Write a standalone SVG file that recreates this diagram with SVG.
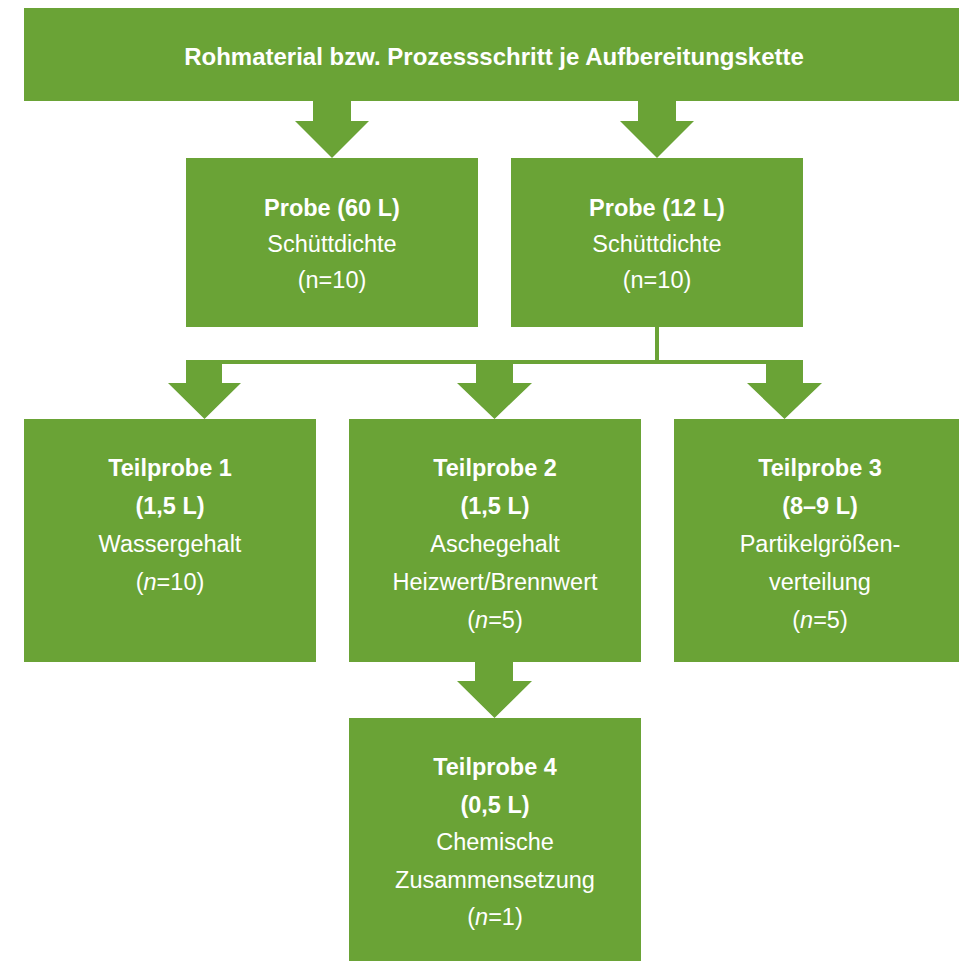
<svg xmlns="http://www.w3.org/2000/svg" width="959" height="967" viewBox="0 0 959 967">
<style>
.box{fill:#6aa336}
.arr{fill:#6aa336}
text{font-family:"Liberation Sans",Arial,sans-serif;font-size:23.5px;fill:#ffffff;text-anchor:middle}
.b{font-weight:bold}
.t{font-size:24px}
.i{font-style:italic}
</style>
<rect width="959" height="967" fill="#ffffff"/>
<g id="connectors">
<polygon class="arr" points="313,101 351,101 351,121 369,121 332,158 295,121 313,121"/>
<polygon class="arr" points="638,101 676,101 676,121 694,121 657,158 620,121 638,121"/>
<rect class="arr" x="655" y="326" width="4" height="36"/>
<rect class="arr" x="186" y="360" width="617" height="4"/>
<polygon class="arr" points="186,362 222,362 222,383 241,383 204.5,419 168,383 186,383"/>
<polygon class="arr" points="476,362 513,362 513,383 532,383 494.5,419 457,383 476,383"/>
<polygon class="arr" points="766,362 803,362 803,383 822,383 784.5,419 747,383 766,383"/>
<polygon class="arr" points="475,661 513,661 513,681 532,681 494.5,718 457,681 475,681"/>
</g>
<g id="top">
<rect class="box" x="24" y="8" width="935" height="93"/>
<text class="b t" x="494" y="65">Rohmaterial bzw. Prozessschritt je Aufbereitungskette</text>
</g>
<g id="probe60">
<rect class="box" x="186" y="158" width="292" height="169"/>
<text class="b" x="332" y="216">Probe (60 L)</text>
<text x="332" y="252">Schüttdichte</text>
<text x="332" y="288">(n=10)</text>
</g>
<g id="probe12">
<rect class="box" x="511" y="158" width="292" height="169"/>
<text class="b" x="657" y="216">Probe (12 L)</text>
<text x="657" y="252">Schüttdichte</text>
<text x="657" y="288">(n=10)</text>
</g>
<g id="teilprobe1">
<rect class="box" x="24" y="419" width="292" height="243"/>
<text class="b" x="170" y="476">Teilprobe 1</text>
<text class="b" x="170" y="514">(1,5 L)</text>
<text x="170" y="552">Wassergehalt</text>
<text x="170" y="590">(<tspan class="i">n</tspan>=10)</text>
</g>
<g id="teilprobe2">
<rect class="box" x="349" y="419" width="292" height="243"/>
<text class="b" x="495" y="476">Teilprobe 2</text>
<text class="b" x="495" y="514">(1,5 L)</text>
<text x="495" y="552">Aschegehalt</text>
<text x="495" y="590">Heizwert/Brennwert</text>
<text x="495" y="628">(<tspan class="i">n</tspan>=5)</text>
</g>
<g id="teilprobe3">
<rect class="box" x="674" y="419" width="285" height="243"/>
<text class="b" x="820" y="476">Teilprobe 3</text>
<text class="b" x="820" y="514">(8–9 L)</text>
<text x="820" y="552">Partikelgrößen-</text>
<text x="820" y="590">verteilung</text>
<text x="820" y="628">(<tspan class="i">n</tspan>=5)</text>
</g>
<g id="teilprobe4">
<rect class="box" x="349" y="718" width="292" height="243"/>
<text class="b" x="495" y="775">Teilprobe 4</text>
<text class="b" x="495" y="813">(0,5 L)</text>
<text x="495" y="850">Chemische</text>
<text x="495" y="888">Zusammensetzung</text>
<text x="495" y="925">(<tspan class="i">n</tspan>=1)</text>
</g>
</svg>
